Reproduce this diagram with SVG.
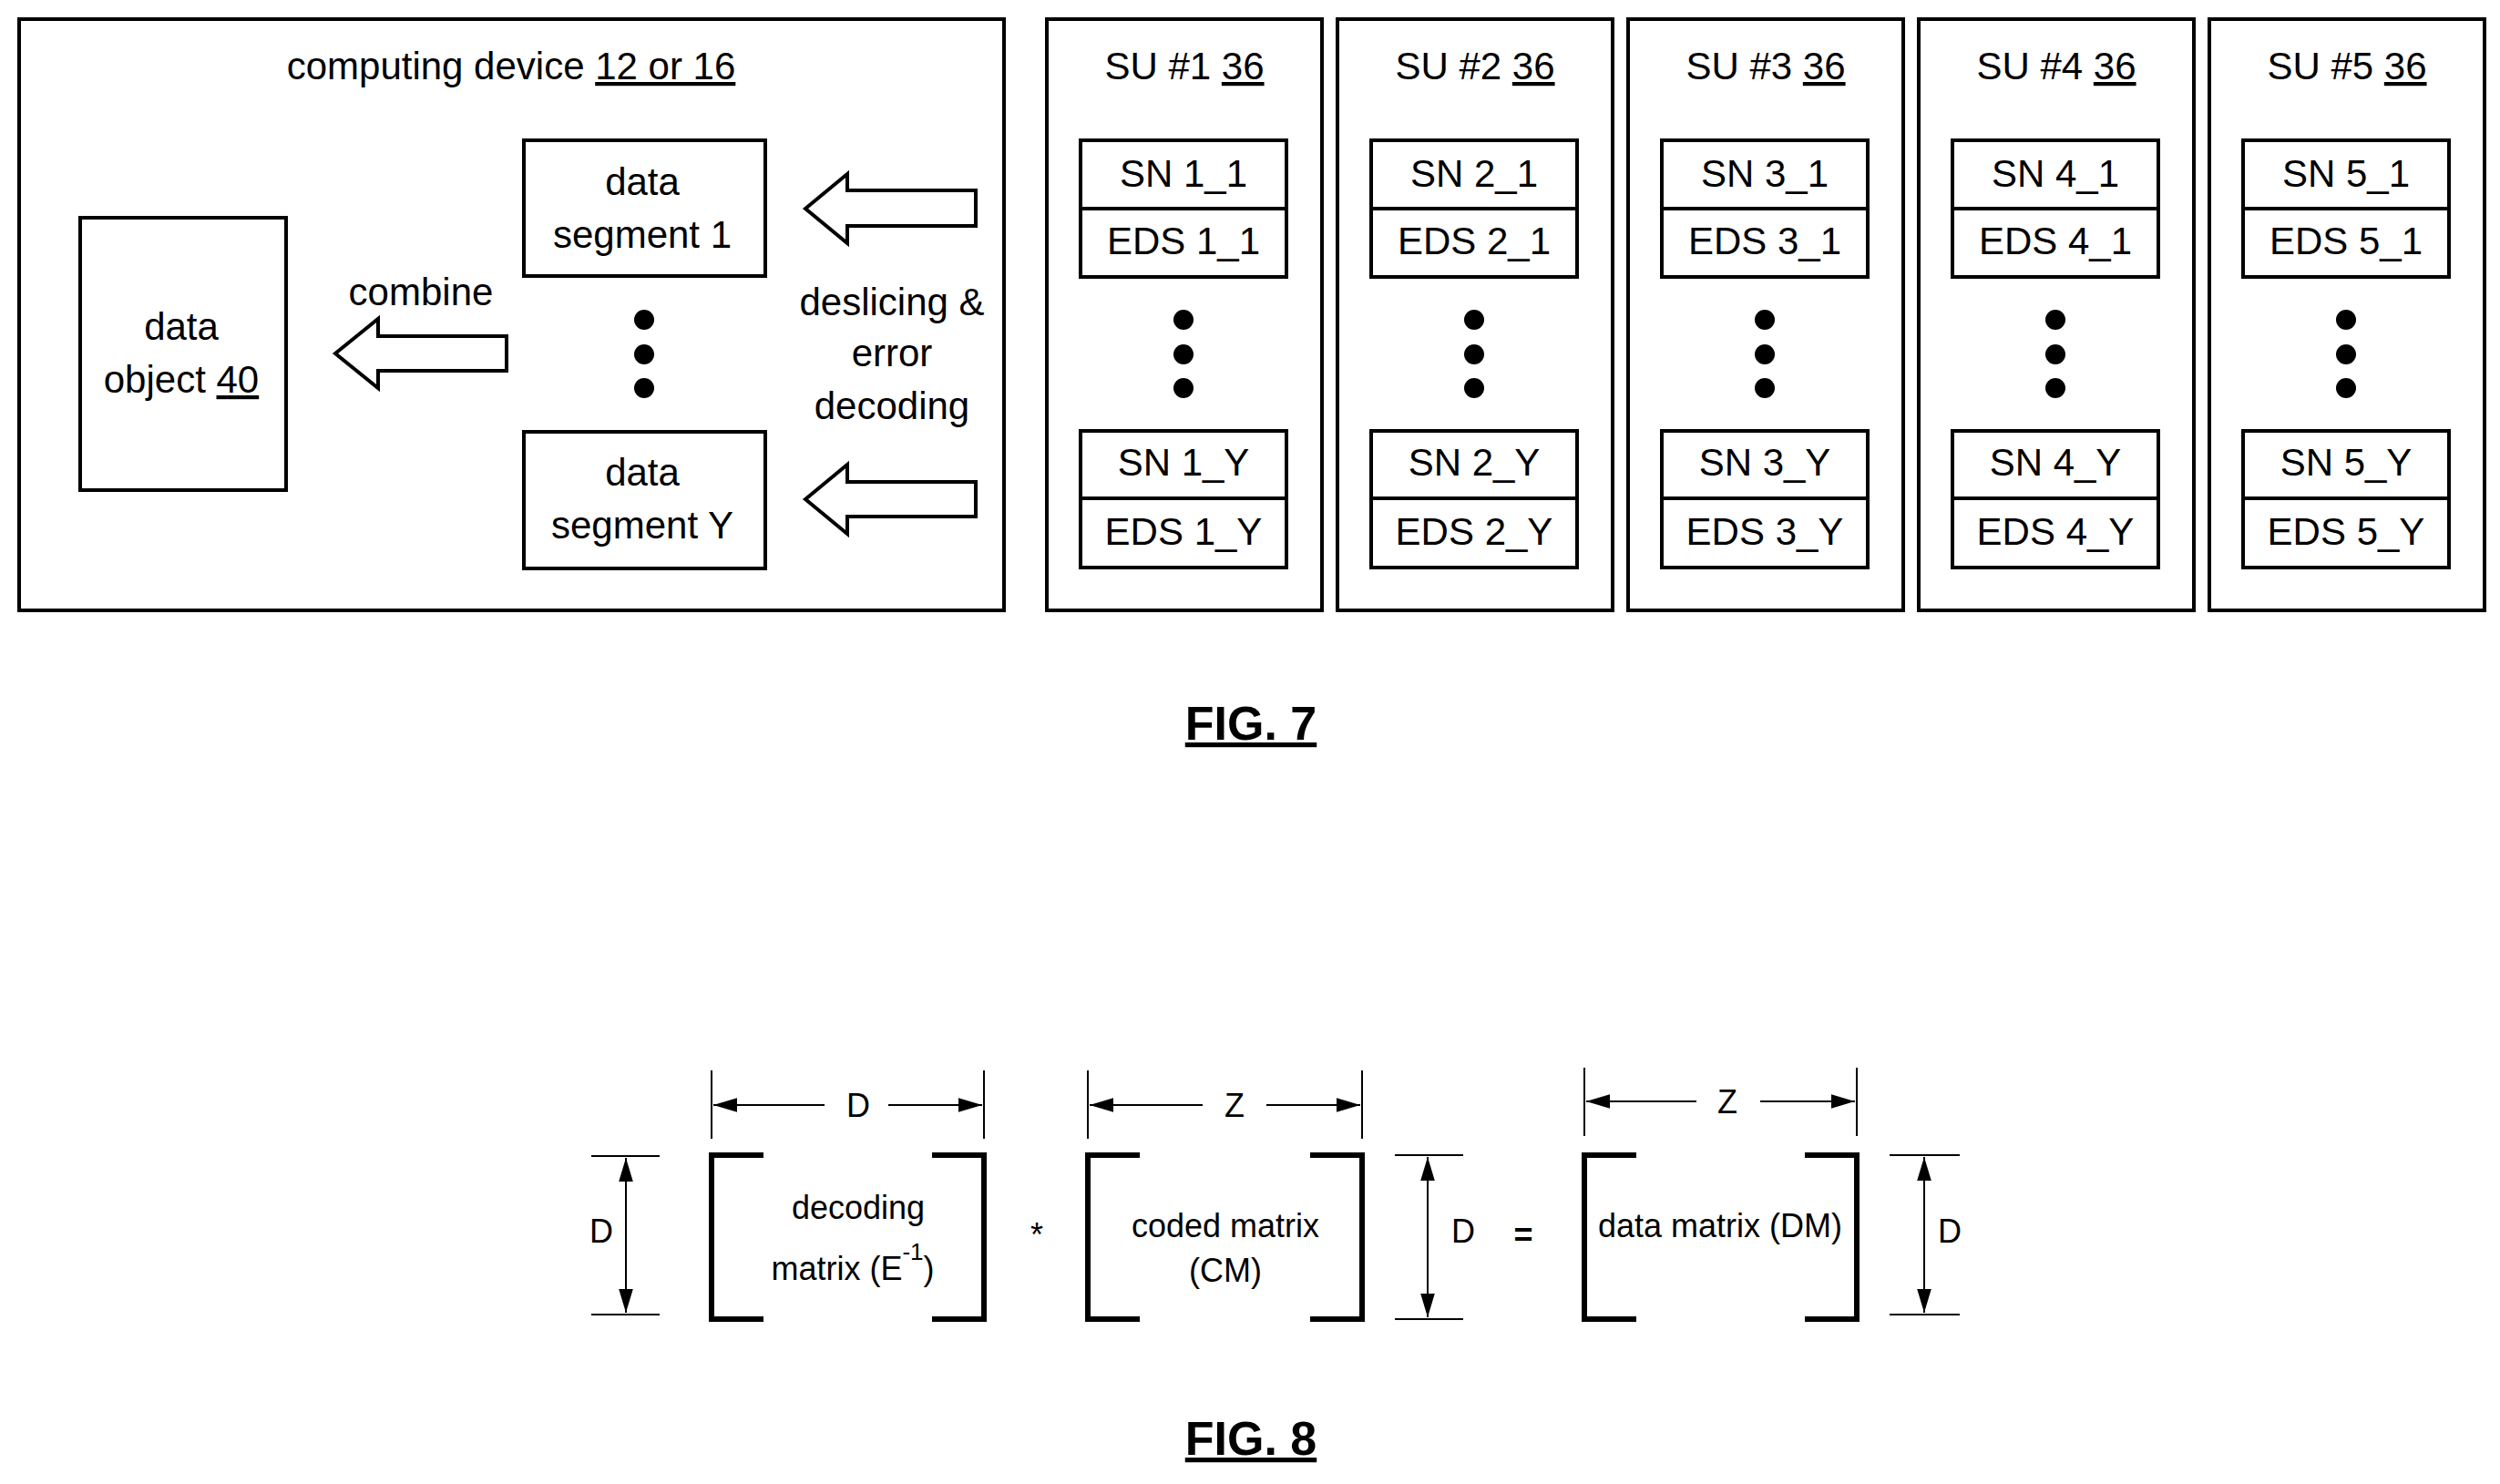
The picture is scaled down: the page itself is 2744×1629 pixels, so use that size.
<svg xmlns="http://www.w3.org/2000/svg" width="2744" height="1629" viewBox="0 0 2744 1629">
<style>
.b{fill:none;stroke:#000;stroke-width:4}
.t{font-family:"Liberation Sans",Arial,sans-serif;font-size:42px;text-anchor:middle;fill:#000}
.s{font-family:"Liberation Sans",Arial,sans-serif;font-size:36px;text-anchor:middle;fill:#000}
.f{font-family:"Liberation Sans",Arial,sans-serif;font-size:52px;font-weight:bold;text-anchor:middle;text-decoration:underline;fill:#000}
.d{stroke:#000;stroke-width:2;fill:none}
.br{fill:none;stroke:#000;stroke-width:6}
</style>
<defs>
<marker id="ah" viewBox="0 0 10 10" refX="10" refY="5" markerWidth="12" markerHeight="12" markerUnits="userSpaceOnUse" orient="auto"><path d="M0,1 L10,5 L0,9 z" fill="#000"/></marker>
<marker id="ah2" viewBox="0 0 10 10" refX="10" refY="5" markerWidth="26" markerHeight="26" markerUnits="userSpaceOnUse" orient="auto"><path d="M0,2 L10,5 L0,8 z" fill="#000"/></marker>
</defs>
<g id="computing-device">
<rect class="b" x="21" y="21" width="1081" height="649"/>
<text class="t" x="561" y="87">computing device <tspan text-decoration="underline">12 or 16</tspan></text>
</g>
<g id="data-object">
<rect class="b" x="88" y="239" width="226" height="299"/>
<text class="t" x="199" y="373">data</text>
<text class="t" x="199" y="431">object <tspan text-decoration="underline">40</tspan></text>
</g>
<g id="data-segment-1">
<rect class="b" x="575" y="154" width="265" height="149"/>
<text class="t" x="705" y="214">data</text>
<text class="t" x="705" y="272">segment 1</text>
</g>
<g id="data-segment-Y">
<rect class="b" x="575" y="474" width="265" height="150"/>
<text class="t" x="705" y="533">data</text>
<text class="t" x="705" y="591">segment Y</text>
</g>
<g id="dots-seg"><circle cx="707" cy="351" r="11"/><circle cx="707" cy="389" r="11"/><circle cx="707" cy="426" r="11"/></g>
<g id="labels">
<text class="t" x="462" y="335">combine</text>
<text class="t" x="979" y="346">deslicing &amp;</text>
<text class="t" x="979" y="402">error</text>
<text class="t" x="979" y="460">decoding</text>
</g>
<g id="connectors">
<path class="b" d="M368,388 L415,350 L415,369 L556,369 L556,407 L415,407 L415,426 Z"/>
<path class="b" d="M884,229 L930,191 L930,209 L1071,209 L1071,248 L930,248 L930,267 Z"/>
<path class="b" d="M884,548 L930,510 L930,529 L1071,529 L1071,567 L930,567 L930,586 Z"/>
</g>
<g id="su1" transform="translate(0,0)">
<rect class="b" x="1149" y="21" width="302" height="649"/>
<text class="t" x="1300" y="87">SU #1 <tspan text-decoration="underline">36</tspan></text>
<rect class="b" x="1186" y="154" width="226" height="75"/><rect class="b" x="1186" y="229" width="226" height="75"/>
<text class="t" x="1299" y="205">SN 1_1</text><text class="t" x="1299" y="279">EDS 1_1</text>
<circle cx="1299" cy="351" r="11"/><circle cx="1299" cy="389" r="11"/><circle cx="1299" cy="426" r="11"/>
<rect class="b" x="1186" y="473" width="226" height="74"/><rect class="b" x="1186" y="547" width="226" height="76"/>
<text class="t" x="1299" y="522">SN 1_Y</text><text class="t" x="1299" y="598">EDS 1_Y</text>
</g>
<g id="su2" transform="translate(319,0)">
<rect class="b" x="1149" y="21" width="302" height="649"/>
<text class="t" x="1300" y="87">SU #2 <tspan text-decoration="underline">36</tspan></text>
<rect class="b" x="1186" y="154" width="226" height="75"/><rect class="b" x="1186" y="229" width="226" height="75"/>
<text class="t" x="1299" y="205">SN 2_1</text><text class="t" x="1299" y="279">EDS 2_1</text>
<circle cx="1299" cy="351" r="11"/><circle cx="1299" cy="389" r="11"/><circle cx="1299" cy="426" r="11"/>
<rect class="b" x="1186" y="473" width="226" height="74"/><rect class="b" x="1186" y="547" width="226" height="76"/>
<text class="t" x="1299" y="522">SN 2_Y</text><text class="t" x="1299" y="598">EDS 2_Y</text>
</g>
<g id="su3" transform="translate(638,0)">
<rect class="b" x="1149" y="21" width="302" height="649"/>
<text class="t" x="1300" y="87">SU #3 <tspan text-decoration="underline">36</tspan></text>
<rect class="b" x="1186" y="154" width="226" height="75"/><rect class="b" x="1186" y="229" width="226" height="75"/>
<text class="t" x="1299" y="205">SN 3_1</text><text class="t" x="1299" y="279">EDS 3_1</text>
<circle cx="1299" cy="351" r="11"/><circle cx="1299" cy="389" r="11"/><circle cx="1299" cy="426" r="11"/>
<rect class="b" x="1186" y="473" width="226" height="74"/><rect class="b" x="1186" y="547" width="226" height="76"/>
<text class="t" x="1299" y="522">SN 3_Y</text><text class="t" x="1299" y="598">EDS 3_Y</text>
</g>
<g id="su4" transform="translate(957,0)">
<rect class="b" x="1149" y="21" width="302" height="649"/>
<text class="t" x="1300" y="87">SU #4 <tspan text-decoration="underline">36</tspan></text>
<rect class="b" x="1186" y="154" width="226" height="75"/><rect class="b" x="1186" y="229" width="226" height="75"/>
<text class="t" x="1299" y="205">SN 4_1</text><text class="t" x="1299" y="279">EDS 4_1</text>
<circle cx="1299" cy="351" r="11"/><circle cx="1299" cy="389" r="11"/><circle cx="1299" cy="426" r="11"/>
<rect class="b" x="1186" y="473" width="226" height="74"/><rect class="b" x="1186" y="547" width="226" height="76"/>
<text class="t" x="1299" y="522">SN 4_Y</text><text class="t" x="1299" y="598">EDS 4_Y</text>
</g>
<g id="su5" transform="translate(1276,0)">
<rect class="b" x="1149" y="21" width="302" height="649"/>
<text class="t" x="1300" y="87">SU #5 <tspan text-decoration="underline">36</tspan></text>
<rect class="b" x="1186" y="154" width="226" height="75"/><rect class="b" x="1186" y="229" width="226" height="75"/>
<text class="t" x="1299" y="205">SN 5_1</text><text class="t" x="1299" y="279">EDS 5_1</text>
<circle cx="1299" cy="351" r="11"/><circle cx="1299" cy="389" r="11"/><circle cx="1299" cy="426" r="11"/>
<rect class="b" x="1186" y="473" width="226" height="74"/><rect class="b" x="1186" y="547" width="226" height="76"/>
<text class="t" x="1299" y="522">SN 5_Y</text><text class="t" x="1299" y="598">EDS 5_Y</text>
</g>
<text class="f" x="1373" y="812">FIG. 7</text>

<g id="decoding-matrix">
<path class="br" d="M838,1268 H781 V1448 H838 M1023,1268 H1080 V1448 H1023"/>
<text class="s" x="942" y="1338">decoding</text>
<text class="s" x="936" y="1405">matrix (E<tspan font-size="26" dy="-22">-1</tspan><tspan dy="22">)</tspan></text>
</g>
<g id="coded-matrix">
<path class="br" d="M1251,1268 H1194 V1448 H1251 M1438,1268 H1495 V1448 H1438"/>
<text class="s" x="1345" y="1358">coded matrix</text>
<text class="s" x="1345" y="1407">(CM)</text>
</g>
<g id="data-matrix">
<path class="br" d="M1796,1268 H1739 V1448 H1796 M1981,1268 H2038 V1448 H1981"/>
<text class="s" x="1888" y="1358">data matrix (DM)</text>
</g>
<g id="operators">
<text class="s" x="1138" y="1368" font-size="44">*</text>
<text class="s" x="1672" y="1368" font-size="52" font-weight="bold">=</text>
</g>
<g id="dimensions">
<line class="d" x1="781" y1="1175" x2="781" y2="1250"/><line class="d" x1="1080" y1="1175" x2="1080" y2="1250"/>
<line class="d" x1="905" y1="1213" x2="783" y2="1213" marker-end="url(#ah2)"/><line class="d" x1="975" y1="1213" x2="1078" y2="1213" marker-end="url(#ah2)"/>
<text class="s" x="942" y="1226">D</text>
<line class="d" x1="1194" y1="1175" x2="1194" y2="1250"/><line class="d" x1="1495" y1="1175" x2="1495" y2="1250"/>
<line class="d" x1="1320" y1="1213" x2="1196" y2="1213" marker-end="url(#ah2)"/><line class="d" x1="1390" y1="1213" x2="1493" y2="1213" marker-end="url(#ah2)"/>
<text class="s" x="1355" y="1226">Z</text>
<line class="d" x1="1739" y1="1172" x2="1739" y2="1247"/><line class="d" x1="2038" y1="1172" x2="2038" y2="1247"/>
<line class="d" x1="1862" y1="1209" x2="1741" y2="1209" marker-end="url(#ah2)"/><line class="d" x1="1932" y1="1209" x2="2036" y2="1209" marker-end="url(#ah2)"/>
<text class="s" x="1896" y="1222">Z</text>
<line class="d" x1="649" y1="1269" x2="724" y2="1269"/><line class="d" x1="649" y1="1443" x2="724" y2="1443"/>
<line class="d" x1="687" y1="1356" x2="687" y2="1271" marker-end="url(#ah2)"/><line class="d" x1="687" y1="1356" x2="687" y2="1441" marker-end="url(#ah2)"/>
<text class="s" x="660" y="1364">D</text>
<line class="d" x1="1531" y1="1268" x2="1606" y2="1268"/><line class="d" x1="1531" y1="1448" x2="1606" y2="1448"/>
<line class="d" x1="1567" y1="1358" x2="1567" y2="1270" marker-end="url(#ah2)"/><line class="d" x1="1567" y1="1358" x2="1567" y2="1446" marker-end="url(#ah2)"/>
<text class="s" x="1606" y="1364">D</text>
<line class="d" x1="2074" y1="1268" x2="2151" y2="1268"/><line class="d" x1="2074" y1="1443" x2="2151" y2="1443"/>
<line class="d" x1="2112" y1="1356" x2="2112" y2="1270" marker-end="url(#ah2)"/><line class="d" x1="2112" y1="1356" x2="2112" y2="1441" marker-end="url(#ah2)"/>
<text class="s" x="2140" y="1364">D</text>
</g>
<text class="f" x="1373" y="1597">FIG. 8</text>
</svg>
